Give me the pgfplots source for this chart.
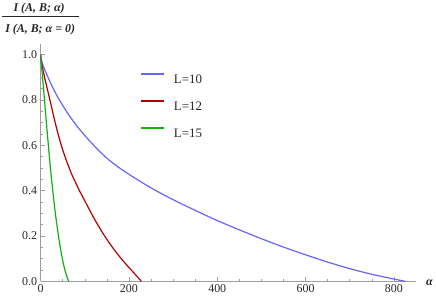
\documentclass[border=0pt]{standalone}
\usepackage{pgfplots}
\pgfplotsset{compat=1.18}
\usepackage{fontspec}
\setmainfont{Liberation Serif}
\definecolor{cblue}{rgb}{0.40,0.40,1.00}
\definecolor{cred}{rgb}{0.70,0.00,0.00}
\definecolor{cgreen}{rgb}{0.05,0.70,0.05}
\definecolor{axgray}{gray}{0.62}
\definecolor{lblgray}{gray}{0.15}
\begin{document}
\rmfamily
\begin{tikzpicture}
\begin{axis}[
  name=ax,
  scale only axis,
  width=376.3bp, height=238bp,
  xmin=0, xmax=851, ymin=0, ymax=1.048,
  axis lines*=left,
  axis line style={axgray, line width=0.6bp},
  tick style={axgray, line width=0.5bp},
  tick align=inside,
  major tick length=4bp,
  minor tick length=2bp,
  xtick={0,200,400,600,800},
  ytick={0,0.2,0.4,0.6,0.8,1.0},
  minor x tick num=3,
  minor y tick num=3,
  /pgf/number format/assume math mode=true,
  yticklabel style={/pgf/number format/.cd, fixed, fixed zerofill, precision=1},
  every tick label/.append style={font=\rmfamily\fontsize{12}{14}\selectfont, text=lblgray},
  legend style={at={(0.2639,0.878)}, anchor=north west, draw=none, fill=none,
    inner sep=0pt, row sep=16.5bp, column sep=9bp,
    nodes={inner sep=0pt, text height=9bp, text depth=0bp, font=\rmfamily\fontsize{13}{15}\selectfont, text=lblgray}},
  legend cell align=left,
  legend image code/.code={\draw[#1, line width=2bp] (0bp,5bp) -- (23bp,5bp);},
  every axis plot/.append style={line width=1.2bp},
]
\addplot[cblue, smooth] coordinates {
(0,1.0) (2,0.975) (5,0.955) (10,0.93) (20,0.885) (30,0.845) (40,0.808) (60,0.745)
(80,0.69) (100,0.643) (125,0.59) (150,0.543) (175,0.505) (200,0.472) (250,0.412)
(300,0.36) (350,0.313) (400,0.268) (450,0.227) (500,0.188) (550,0.151) (600,0.117)
(650,0.085) (700,0.056) (750,0.031) (800,0.01) (826,0)
};
\addlegendentry{L=10}
\addplot[cred, smooth] coordinates {
(0,1.0) (1,0.975) (3,0.952) (5,0.935) (10,0.89) (20,0.808) (30,0.724) (40,0.646)
(50,0.58) (60,0.524) (70,0.474) (80,0.432) (90,0.392) (100,0.355) (120,0.281)
(140,0.215) (160,0.157) (180,0.106) (200,0.061) (215,0.029) (228,0)
};
\addlegendentry{L=12}
\addplot[cgreen, smooth] coordinates {
(0,1.0) (2,0.95) (5,0.885) (10,0.77) (15,0.655) (20,0.545) (25,0.445) (30,0.355)
(35,0.275) (40,0.205) (45,0.145) (50,0.092) (55,0.05) (60,0.018) (63.5,0)
};
\addlegendentry{L=15}
\end{axis}
\node[font=\rmfamily\fontsize{12}{14}\selectfont\bfseries\itshape, text=lblgray] at ([shift={(-1.5bp,273bp)}]ax.south west) {I (A, B; α)};
\draw[lblgray, line width=0.8bp] ([shift={(-38.7bp,265.7bp)}]ax.south west) -- ([shift={(38.3bp,265.7bp)}]ax.south west);
\node[font=\rmfamily\fontsize{12}{14}\selectfont\bfseries\itshape, text=lblgray] at ([shift={(-0.5bp,252bp)}]ax.south west) {I (A, B; α = 0)};
\node[font=\rmfamily\fontsize{12}{14}\selectfont\bfseries\itshape, text=lblgray] at ([shift={(389.3bp,-1bp)}]ax.south west) {α};
\path[use as bounding box] ([shift={(-40.7bp,-19bp)}]ax.south west) rectangle ([shift={(395.3bp,281bp)}]ax.south west);
\end{tikzpicture}
\end{document}
